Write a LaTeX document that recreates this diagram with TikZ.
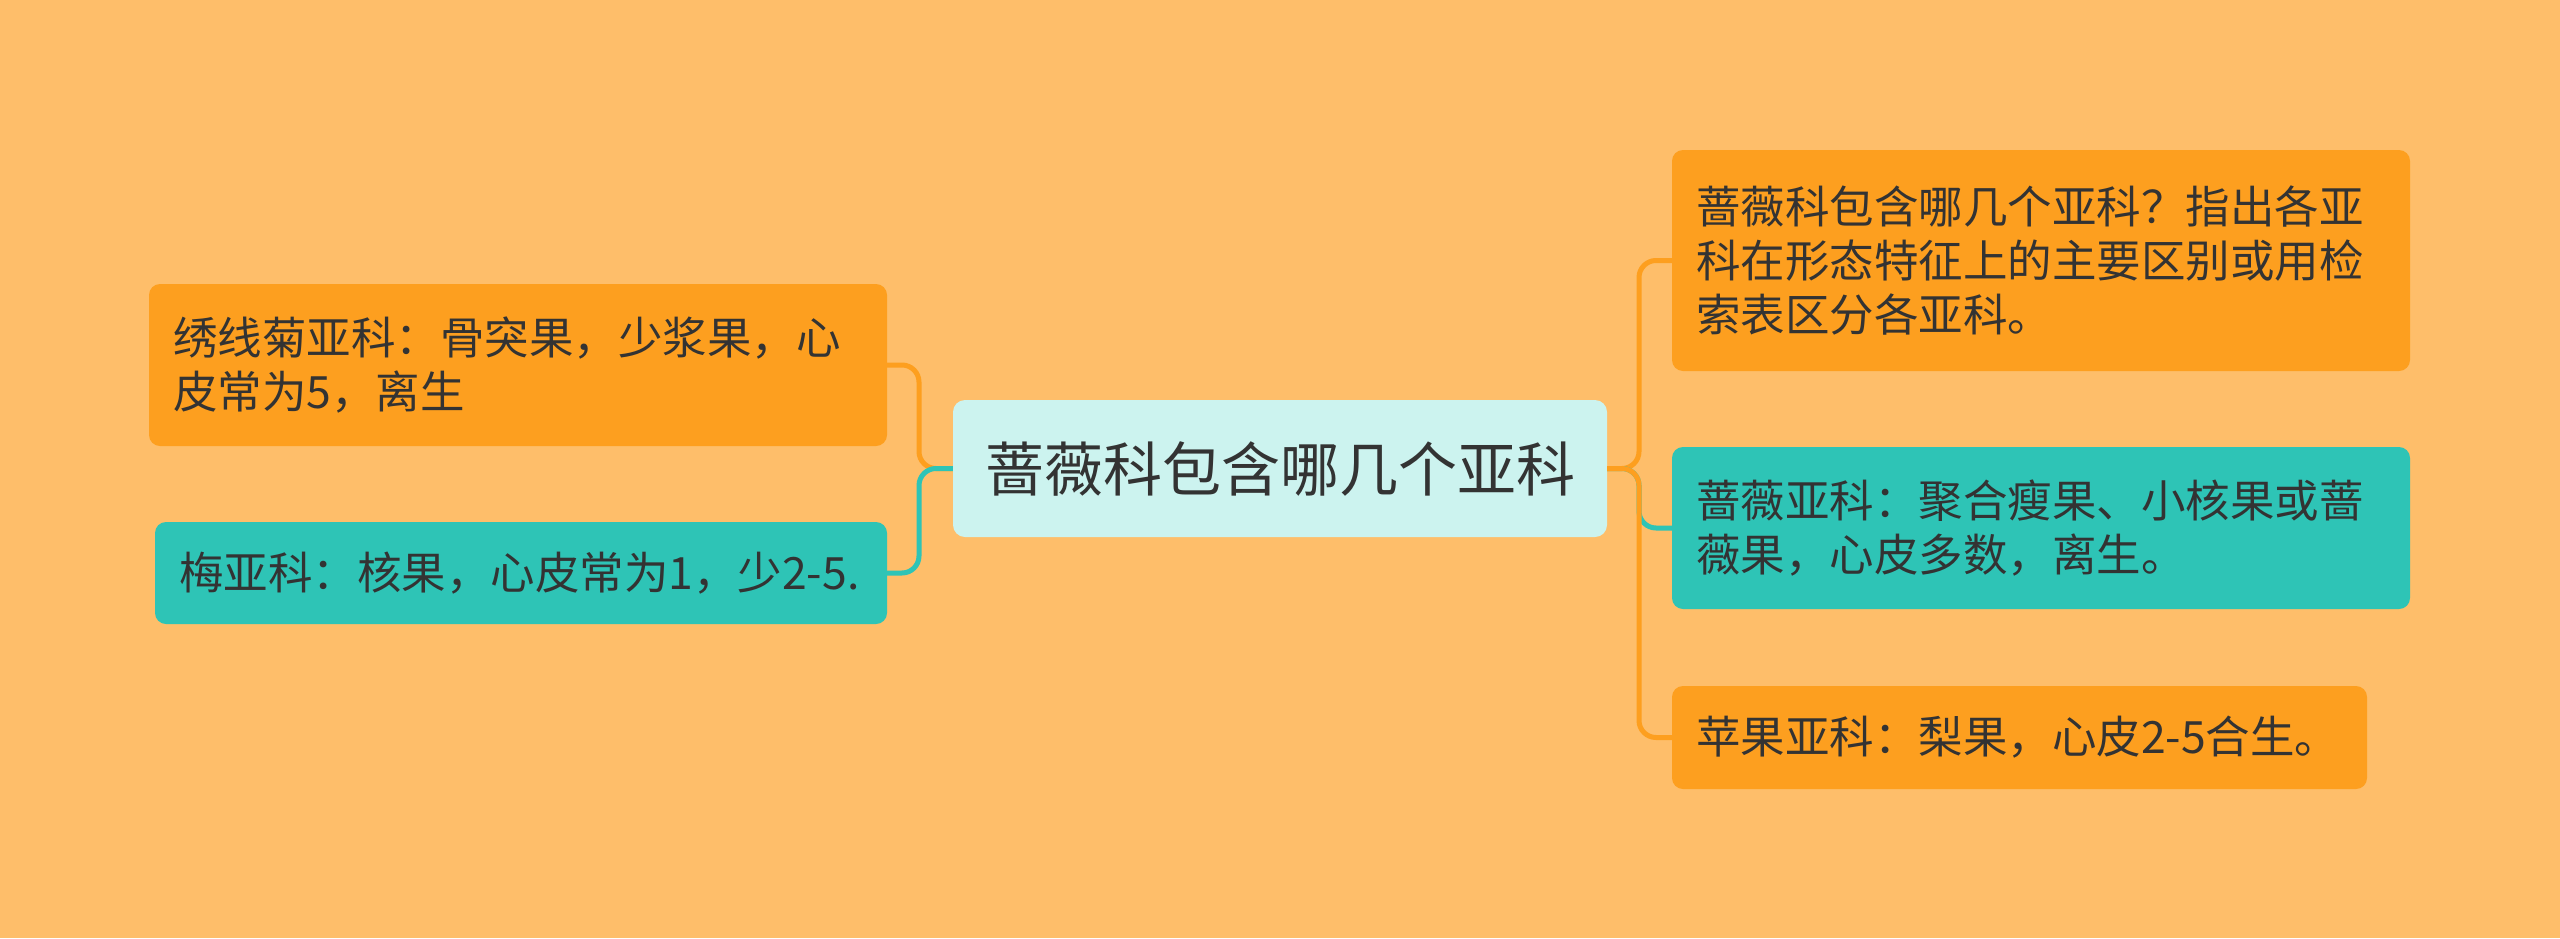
\documentclass[tikz,border=0pt]{standalone}
\usepackage{fontspec}
\setmainfont{Noto Sans CJK SC}
\definecolor{bg}{HTML}{FEBE6A}
\definecolor{orangebox}{HTML}{FD9F1F}
\definecolor{tealbox}{HTML}{2EC4B6}
\definecolor{centerbox}{HTML}{CCF3EF}
\definecolor{txt}{HTML}{333333}
\tikzset{
  leaf/.style={rectangle, rounded corners=11pt, inner xsep=24pt, inner ysep=0pt, align=left, text=txt,
    font=\fontsize{44.5pt}{54pt}\selectfont, anchor=center},
  orangeleaf/.style={leaf, fill=orangebox},
  tealleaf/.style={leaf, fill=tealbox},
  rootbox/.style={rectangle, rounded corners=12pt, fill=centerbox, text=txt, align=center,
    font=\fontsize{59pt}{70pt}\selectfont, inner sep=0pt},
  oline/.style={draw=orangebox, line width=5pt, rounded corners=17pt},
  tline/.style={draw=tealbox, line width=5pt, rounded corners=17pt},
}
\begin{document}
\begin{tikzpicture}[x=1pt,y=-1pt]
\fill[bg] (0,0) rectangle (2560,938);
\useasboundingbox (0,0) rectangle (2560,938);

\node[rootbox, minimum width=654pt, minimum height=137pt] (C) at (1280,468.5) {蔷薇科包含哪几个亚科};

\node[orangeleaf, text width=690pt, minimum height=162pt] (L1) at (518,365) {绣线菊亚科：骨突果，少浆果，心\\皮常为5，离生};
\node[tealleaf, text width=684pt, minimum height=102pt] (L2) at (521,573) {梅亚科：核果，心皮常为1，少2-5.};

\node[orangeleaf, text width=690pt, minimum height=221pt] (R1) at (2041,260.5) {蔷薇科包含哪几个亚科？指出各亚\\科在形态特征上的主要区别或用检\\索表区分各亚科。};
\node[tealleaf, text width=690pt, minimum height=162pt] (R2) at (2041,528) {蔷薇亚科：聚合瘦果、小核果或蔷\\薇果，心皮多数，离生。};
\node[orangeleaf, text width=647pt, minimum height=103pt] (R3) at (2019.5,737.5) {苹果亚科：梨果，心皮2-5合生。};

\coordinate (JL) at (919,468.5);
\coordinate (JR) at (1639,468.5);

\draw[oline] (C.west) -- (JL) |- (L1.east);
\draw[tline] (C.west) -- (JL) |- (L2.east);

\draw[oline] (C.east) -- (JR) |- (R1.west);
\draw[tline] (C.east) -- (JR) |- (R2.west);
\draw[oline] (C.east) -- (JR) |- (R3.west);
\end{tikzpicture}
\end{document}
